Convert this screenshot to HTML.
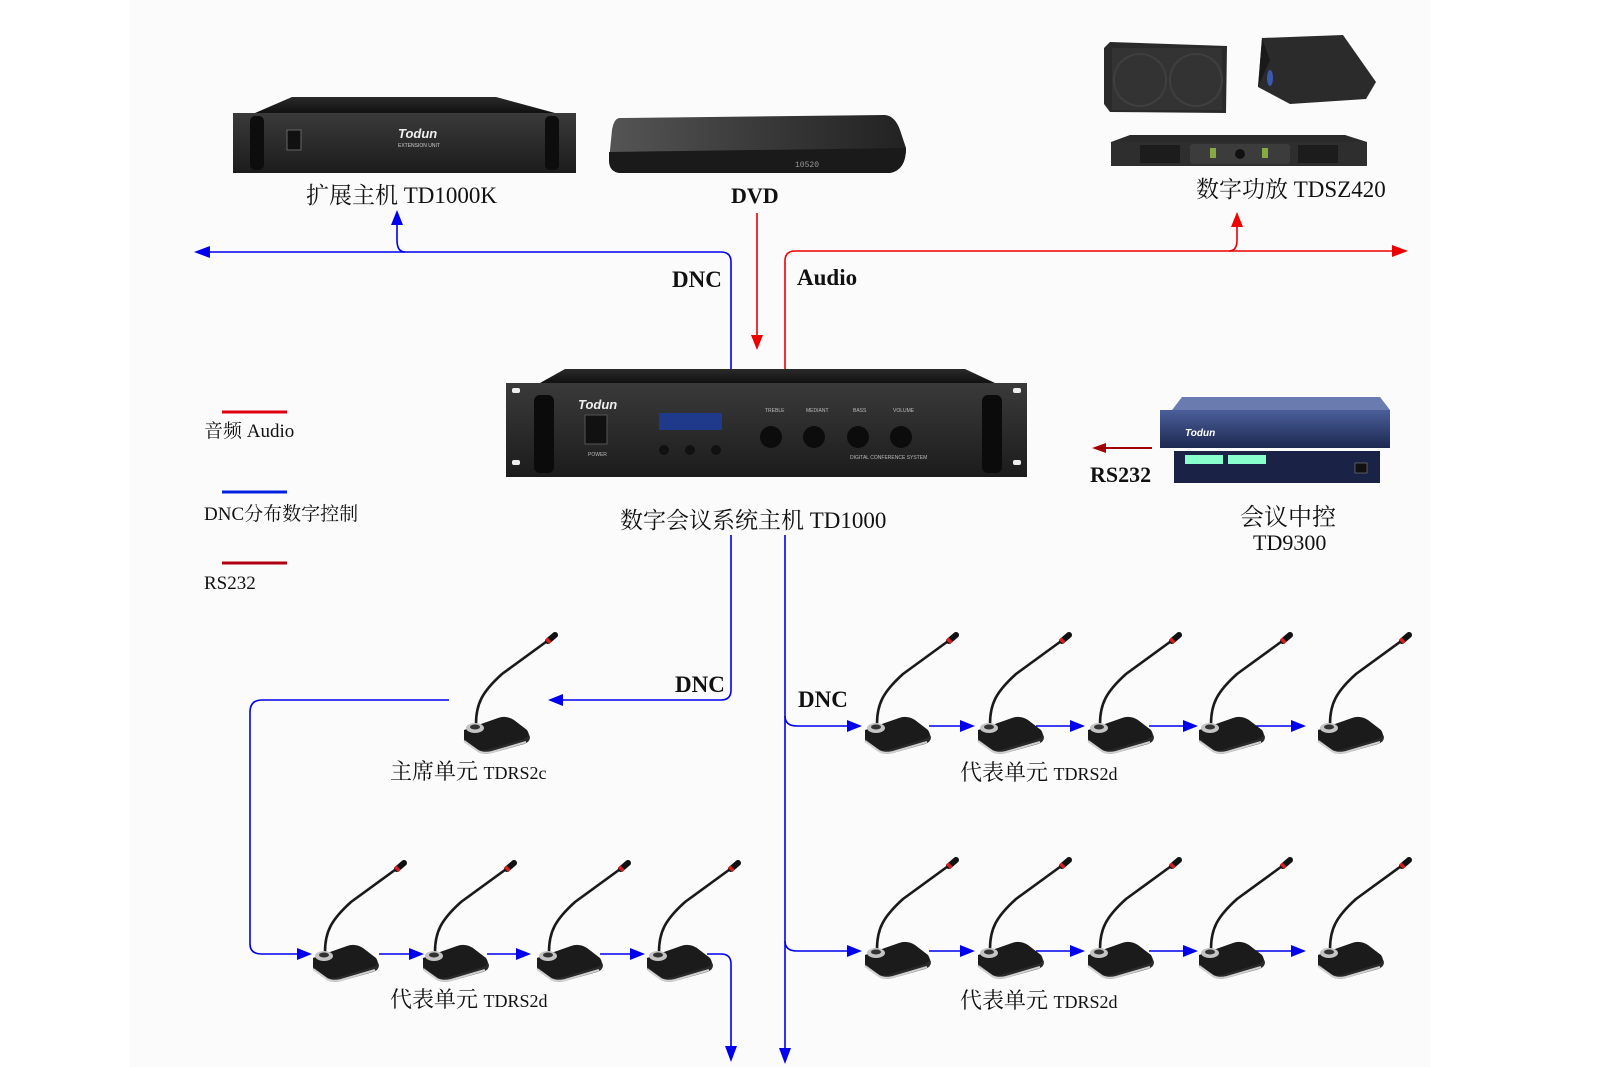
<!DOCTYPE html>
<html><head><meta charset="utf-8"><style>
html,body{margin:0;padding:0;background:#fff;}
svg{display:block;}
.lab{font-family:"Liberation Serif","Noto Serif CJK SC",serif;fill:#111;}
.bold{font-family:"Liberation Serif",serif;font-weight:bold;fill:#111;}
.tiny{font-family:"Liberation Sans",sans-serif;fill:#bbb;font-size:5px;}
</style></head><body>
<svg width="1600" height="1067" viewBox="0 0 1600 1067" xmlns="http://www.w3.org/2000/svg">
<defs>
<linearGradient id="rack" x1="0" y1="0" x2="0" y2="1"><stop offset="0" stop-color="#3a3a3a"/><stop offset="1" stop-color="#1c1c1c"/></linearGradient>
<linearGradient id="lid" x1="0" y1="0" x2="0" y2="1"><stop offset="0" stop-color="#2a2a2a"/><stop offset="1" stop-color="#111"/></linearGradient>
<linearGradient id="dvd" x1="0" y1="0" x2="1" y2="0"><stop offset="0" stop-color="#555"/><stop offset="0.5" stop-color="#3a3a3a"/><stop offset="1" stop-color="#222"/></linearGradient>
<linearGradient id="blue" x1="0" y1="0" x2="0" y2="1"><stop offset="0" stop-color="#4a5f9a"/><stop offset="1" stop-color="#1d2850"/></linearGradient>
<g id="mic">
  <path d="M14,-2 C14,-22 20,-34 40,-52 L88,-87" stroke="#1a1a1a" stroke-width="2.6" fill="none"/>
  <path d="M86,-85 L93,-91" stroke="#111" stroke-width="6" stroke-linecap="round"/>
  <path d="M85,-84 L87.5,-86.5" stroke="#d02020" stroke-width="6"/>
  <path d="M2,8 L2,16 L16,26 Q22,29 30,27 L62,18 Q68,16 68,11 L66,6 Z" fill="#2a2a2a"/>
  <path d="M2,4 L36,-8 Q44,-11 52,-6 L65,4 Q69,10 62,13 L28,23 Q20,26 13,22 L2,12 Z" fill="#1b1b1b"/>
  <path d="M2,15 L16,25 Q22,28 30,26 L64,16" stroke="#d0d0d0" stroke-width="2" fill="none"/>
  <ellipse cx="13" cy="2" rx="9" ry="5" fill="#c4c4c4"/>
  <ellipse cx="13" cy="1" rx="5" ry="2.5" fill="#333"/>
</g>
</defs>
<rect x="130" y="0" width="1300" height="1067" fill="#fbfbfb"/>

<!-- TD1000K -->
<path d="M292,97 L496,97 L555,113 L255,113 Z" fill="url(#lid)"/>
<rect x="233" y="113" width="343" height="60" fill="url(#rack)"/>
<rect x="250" y="116" width="14" height="54" rx="5" fill="#0d0d0d"/>
<rect x="545" y="116" width="14" height="54" rx="5" fill="#0d0d0d"/>
<rect x="287" y="130" width="14" height="20" fill="#111" stroke="#666" stroke-width="1"/>
<text x="398" y="138" font-family="Liberation Sans" font-style="italic" font-weight="bold" font-size="13" fill="#eee">Todun</text>
<text x="398" y="147" class="tiny" style="fill:#ccc">EXTENSION UNIT</text>
<text class="lab" x="306" y="203" font-size="23">扩展主机 TD1000K</text>

<!-- DVD -->
<path d="M620,118 L885,115 Q895,116 900,130 L906,148 Q906,170 890,173 L620,173 Q609,172 609,160 L612,130 Q614,118 620,118 Z" fill="url(#dvd)"/>
<path d="M609,152 L906,148 Q906,170 890,173 L620,173 Q609,172 609,160 Z" fill="#1a1a1a"/>
<text x="795" y="167" font-family="Liberation Mono" font-size="8" fill="#999">10520</text>
<text class="bold" x="731" y="203" font-size="22">DVD</text>

<!-- speakers -->
<path d="M1110,42 L1227,46 L1226,113 L1110,112 L1104,104 L1104,48 Z" fill="#2a2a2a"/>
<rect x="1112" y="48" width="110" height="62" fill="#333"/>
<circle cx="1140" cy="80" r="26" fill="none" stroke="#3f3f3f" stroke-width="2"/>
<circle cx="1196" cy="80" r="26" fill="none" stroke="#3f3f3f" stroke-width="2"/>
<path d="M1262,38 L1343,35 L1376,82 L1366,99 L1290,104 L1258,87 Z" fill="#2b2b2b"/>
<path d="M1258,87 L1262,38 L1270,60 Z" fill="#1a1a1a"/>
<ellipse cx="1270" cy="78" rx="3" ry="8" fill="#3a5ab0"/>
<!-- amp -->
<path d="M1130,135 L1345,135 L1367,142 L1111,142 Z" fill="#2a2a2a"/>
<rect x="1111" y="142" width="256" height="24" fill="#2e2e2e"/>
<rect x="1140" y="145" width="40" height="18" fill="#1c1c1c"/>
<rect x="1298" y="145" width="40" height="18" fill="#1c1c1c"/>
<rect x="1190" y="144" width="100" height="20" rx="3" fill="#3c3c3c"/>
<circle cx="1240" cy="154" r="5" fill="#111"/>
<rect x="1210" y="148" width="6" height="10" fill="#8a4"/><rect x="1262" y="148" width="6" height="10" fill="#8a4"/>
<text class="lab" x="1196" y="197" font-size="23">数字功放 TDSZ420</text>

<!-- main TD1000 -->
<path d="M565,369 L965,369 L995,383 L540,383 Z" fill="url(#lid)"/>
<rect x="506" y="383" width="521" height="94" fill="url(#rack)"/>
<rect x="512" y="388" width="8" height="5" rx="2" fill="#eee"/><rect x="512" y="460" width="8" height="5" rx="2" fill="#eee"/>
<rect x="1013" y="388" width="8" height="5" rx="2" fill="#eee"/><rect x="1013" y="460" width="8" height="5" rx="2" fill="#eee"/>
<rect x="534" y="395" width="20" height="78" rx="6" fill="#0b0b0b"/>
<rect x="982" y="395" width="20" height="78" rx="6" fill="#0b0b0b"/>
<text x="578" y="409" font-family="Liberation Sans" font-style="italic" font-weight="bold" font-size="13" fill="#eee">Todun</text>
<rect x="585" y="415" width="22" height="29" fill="#111" stroke="#555"/>
<text x="588" y="456" class="tiny">POWER</text>
<rect x="659" y="413" width="63" height="17" fill="#1f3a8a"/>
<circle cx="664" cy="450" r="5" fill="#111"/><circle cx="690" cy="450" r="5" fill="#111"/><circle cx="716" cy="450" r="5" fill="#111"/>
<circle cx="771" cy="437" r="11" fill="#0c0c0c"/><circle cx="814" cy="437" r="11" fill="#0c0c0c"/>
<circle cx="858" cy="437" r="11" fill="#0c0c0c"/><circle cx="901" cy="437" r="11" fill="#0c0c0c"/>
<text x="765" y="412" class="tiny">TREBLE</text><text x="806" y="412" class="tiny">MEDIANT</text><text x="853" y="412" class="tiny">BASS</text><text x="893" y="412" class="tiny">VOLUME</text>
<text x="850" y="459" class="tiny">DIGITAL CONFERENCE SYSTEM</text>
<text class="lab" x="620" y="528" font-size="23">数字会议系统主机 TD1000</text>

<!-- TD9300 -->
<path d="M1182,397 L1380,397 L1390,410 L1172,410 Z" fill="#6a7bb0"/>
<rect x="1160" y="410" width="230" height="38" fill="url(#blue)"/>
<text x="1185" y="436" font-family="Liberation Sans" font-style="italic" font-weight="bold" font-size="10" fill="#fff">Todun</text>
<rect x="1174" y="451" width="206" height="32" fill="#1a2345"/>
<rect x="1185" y="455" width="38" height="9" fill="#8fc"/><rect x="1228" y="455" width="38" height="9" fill="#8fc"/>
<rect x="1355" y="463" width="12" height="10" fill="#111" stroke="#999" stroke-width="0.5"/>
<text class="lab" x="1240" y="525" font-size="24">会议中控</text>
<text class="lab" x="1253" y="550" font-size="22">TD9300</text>
<line x1="1152" y1="448" x2="1100" y2="448" stroke="#a00000" stroke-width="2"/>
<path d="M1092,448 L1106,443 L1106,453 Z" fill="#a00000"/>
<text class="bold" x="1090" y="482" font-size="22">RS232</text>

<!-- legend -->
<line x1="222" y1="412" x2="287" y2="412" stroke="#e00010" stroke-width="3"/>
<text class="lab" x="204" y="437" font-size="19">音频 Audio</text>
<line x1="222" y1="492" x2="287" y2="492" stroke="#0020e0" stroke-width="3"/>
<text class="lab" x="204" y="520" font-size="19">DNC分布数字控制</text>
<line x1="222" y1="563" x2="287" y2="563" stroke="#b00010" stroke-width="3"/>
<text class="lab" x="204" y="589" font-size="19">RS232</text>

<!-- top connectors -->
<g fill="none" stroke-width="1.6">
<path d="M731,369 L731,262 Q731,252 721,252 L204,252" stroke="#0000ee"/>
<path d="M405,252 Q397,252 397,240 L397,222" stroke="#0000ee"/>
<line x1="757" y1="213" x2="757" y2="340" stroke="#ee0000"/>
<path d="M785,369 L785,261 Q785,251 795,251 L1396,251" stroke="#ee0000"/>
<path d="M1229,251 Q1237,251 1237,240 L1237,224" stroke="#ee0000"/>
</g>
<path d="M194,252 L210,246 L210,258 Z" fill="#0000ee"/>
<path d="M397,210 L391,225 L403,225 Z" fill="#0000ee"/>
<path d="M757,350 L751,335 L763,335 Z" fill="#ee0000"/>
<path d="M1408,251 L1392,245 L1392,257 Z" fill="#ee0000"/>
<path d="M1237,212 L1231,227 L1243,227 Z" fill="#ee0000"/>
<text class="bold" x="672" y="287" font-size="23">DNC</text>
<text class="bold" x="797" y="285" font-size="23">Audio</text>

<!-- lower connectors -->
<g fill="none" stroke="#0000ee" stroke-width="1.6">
<path d="M731,535 L731,690 Q731,700 721,700 L560,700"/>
<path d="M449,700 L262,700 Q250,700 250,712 L250,944 Q250,954 262,954 L300,954"/>
<path d="M785,535 L785,1050"/>
<path d="M785,716 Q785,726 797,726 L850,726"/>
<path d="M785,941 Q785,951 797,951 L850,951"/>
<path d="M707,954 L721,954 Q731,954 731,964 L731,1048"/>
<path d="M379,954 L412,954"/><path d="M487,954 L519,954"/><path d="M600,954 L633,954"/>
<path d="M929,726 L963,726"/><path d="M1036,726 L1073,726"/><path d="M1149,726 L1186,726"/><path d="M1256,726 L1294,726"/>
<path d="M929,951 L963,951"/><path d="M1036,951 L1073,951"/><path d="M1149,951 L1186,951"/><path d="M1256,951 L1294,951"/>
</g>
<g fill="#0000ee">
<path d="M548,700 L563,694 L563,706 Z"/>
<path d="M312,954 L297,948 L297,960 Z"/><path d="M424,954 L409,948 L409,960 Z"/><path d="M531,954 L516,948 L516,960 Z"/><path d="M645,954 L630,948 L630,960 Z"/>
<path d="M862,726 L847,720 L847,732 Z"/><path d="M975,726 L960,720 L960,732 Z"/><path d="M1085,726 L1070,720 L1070,732 Z"/><path d="M1198,726 L1183,720 L1183,732 Z"/><path d="M1306,726 L1291,720 L1291,732 Z"/>
<path d="M862,951 L847,945 L847,957 Z"/><path d="M975,951 L960,945 L960,957 Z"/><path d="M1085,951 L1070,945 L1070,957 Z"/><path d="M1198,951 L1183,945 L1183,957 Z"/><path d="M1306,951 L1291,945 L1291,957 Z"/>
<path d="M731,1062 L725,1046 L737,1046 Z"/><path d="M785,1064 L779,1048 L791,1048 Z"/>
</g>
<text class="bold" x="675" y="692" font-size="23">DNC</text>
<text class="bold" x="798" y="707" font-size="23">DNC</text>

<!-- mics -->
<use href="#mic" x="462" y="726"/>
<use href="#mic" x="311" y="954"/><use href="#mic" x="421" y="954"/><use href="#mic" x="535" y="954"/><use href="#mic" x="645" y="954"/>
<use href="#mic" x="863" y="726"/><use href="#mic" x="976" y="726"/><use href="#mic" x="1086" y="726"/><use href="#mic" x="1197" y="726"/><use href="#mic" x="1316" y="726"/>
<use href="#mic" x="863" y="951"/><use href="#mic" x="976" y="951"/><use href="#mic" x="1086" y="951"/><use href="#mic" x="1197" y="951"/><use href="#mic" x="1316" y="951"/>

<text class="lab" x="390" y="779" font-size="22">主席单元 <tspan font-size="18">TDRS2c</tspan></text>
<text class="lab" x="960" y="780" font-size="22">代表单元 <tspan font-size="18">TDRS2d</tspan></text>
<text class="lab" x="390" y="1007" font-size="22">代表单元 <tspan font-size="18">TDRS2d</tspan></text>
<text class="lab" x="960" y="1008" font-size="22">代表单元 <tspan font-size="18">TDRS2d</tspan></text>
</svg>
</body></html>
